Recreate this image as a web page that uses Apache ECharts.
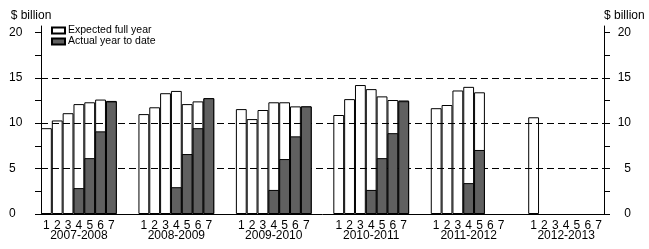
<!DOCTYPE html>
<html>
<head>
<meta charset="utf-8">
<script src="https://cdn.jsdelivr.net/npm/echarts@6/dist/echarts.min.js"></script>
<style>
html,body{margin:0;padding:0;background:#fff;}
#chart{width:649px;height:249px;}
</style>
</head>
<body>
<div id="chart"></div>
<script>
// ---- data ----
var years = ['2007-2008', '2008-2009', '2009-2010', '2010-2011', '2011-2012', '2012-2013'];
var periods = ['1', '2', '3', '4', '5', '6', '7'];
var expected2007 = [9.45, 10.3, 11.1, 12.1, 12.3, 12.6, 12.45];
var expected2008 = [11.0, 11.75, 13.3, 13.55, 12.1, 12.4, 12.75];
var expected2009 = [11.55, 10.45, 11.45, 12.3, 12.3, 11.85, 11.85];
var expected2010 = [10.9, 12.65, 14.2, 13.75, 12.95, 12.55, 12.5];
var expected2011 = [11.65, 12.0, 13.6, 14.0, 13.4, null, null];
var expected2012 = [10.65, null, null, null, null, null, null];
var actual2007 = [null, null, null, 2.85, 6.15, 9.1, 12.4];
var actual2008 = [null, null, null, 2.95, 6.6, 9.45, 12.75];
var actual2009 = [null, null, null, 2.65, 6.05, 8.55, 11.85];
var actual2010 = [null, null, null, 2.65, 6.15, 8.9, 12.42];
var actual2011 = [null, null, null, 3.4, 7.05, null, null];
var actual2012 = [null, null, null, null, null, null, null];
var yTickValues = [0, 2.5, 5, 7.5, 10, 12.5, 15, 17.5, 20];
var yLabelValues = [0, 5, 10, 15, 20];
var refLines = [5, 10, 15];

// ---- build category axis (7 periods per year, 2 empty slots between years) ----
var expectedByYear = [expected2007, expected2008, expected2009, expected2010, expected2011, expected2012];
var actualByYear = [actual2007, actual2008, actual2009, actual2010, actual2011, actual2012];
var categories = [], expData = [], actData = [], labelMap = {};
years.forEach(function (yr, yi) {
  periods.forEach(function (p, pi) {
    var key = yr + '|' + p;
    categories.push(key);
    labelMap[key] = (pi === 3) ? p + '\n' + yr : p;
    expData.push(expectedByYear[yi][pi]);
    actData.push(actualByYear[yi][pi]);
  });
  if (yi < years.length - 1) {
    for (var g = 0; g < 2; g++) {
      var gk = 'gap' + yi + '_' + g;
      categories.push(gk);
      labelMap[gk] = '';
      expData.push(null);
      actData.push(null);
    }
  }
});

var FONT = "'Liberation Sans', Arial, Helvetica, sans-serif";
var chart = echarts.init(document.getElementById('chart'), null, {renderer: 'canvas'});

function yAxisDef(pos) {
  var left = pos === 'left';
  return {
    type: 'value',
    position: pos,
    min: 0,
    max: 20.7,
    name: '$ billion',
    nameLocation: 'end',
    nameGap: 10,
    nameTextStyle: {
      fontFamily: FONT, fontSize: 12, color: '#000',
      align: left ? 'center' : 'left',
      verticalAlign: 'middle',
      padding: left ? [0, 20, 0, 0] : [0, 0, 0, 0]
    },
    axisLine: {show: true, lineStyle: {color: '#000', width: 1}},
    axisTick: {show: true, inside: false, length: 6, lineStyle: {color: '#000', width: 1}, customValues: yTickValues},
    axisLabel: {
      show: true, customValues: yLabelValues,
      fontFamily: FONT, fontSize: 12, color: '#000',
      align: left ? 'left' : 'right',
      margin: left ? 32 : 27
    },
    splitLine: {show: false}
  };
}

chart.setOption({
  animation: false,
  backgroundColor: '#fff',
  textStyle: {fontFamily: FONT},
  grid: {left: 41, right: 45, top: 26, bottom: 35, containLabel: false},
  legend: {
    orient: 'vertical',
    left: 51,
    top: 25,
    padding: 0,
    itemWidth: 13,
    itemHeight: 6,
    itemGap: 0,
    icon: 'rect',
    textStyle: {fontFamily: FONT, fontSize: 10.5, color: '#000', lineHeight: 9, padding: [0, 0, 0, -2]},
    data: ['Expected full year', 'Actual year to date']
  },
  xAxis: {
    type: 'category',
    data: categories,
    boundaryGap: true,
    axisLine: {show: true, lineStyle: {color: '#000', width: 1}},
    axisTick: {show: false},
    axisLabel: {
      interval: 0,
      hideOverlap: false,
      fontFamily: FONT, fontSize: 12, color: '#000',
      lineHeight: 10,
      margin: 7,
      verticalAlign: 'top',
      formatter: function (v) { return labelMap[v]; }
    },
    splitLine: {show: false}
  },
  yAxis: [yAxisDef('left'), yAxisDef('right')],
  series: [
    {
      name: 'Expected full year',
      type: 'bar',
      data: expData,
      barWidth: '100%',
      barGap: '-100%',
      z: 2,
      itemStyle: {color: '#fff', borderColor: '#000', borderWidth: 1},
      markLine: {
        silent: true,
        symbol: 'none',
        z: 5,
        label: {show: false},
        lineStyle: {color: '#000', width: 1, type: [7, 4]},
        data: refLines.map(function (v) { return {yAxis: v}; })
      }
    },
    {
      name: 'Actual year to date',
      type: 'bar',
      data: actData,
      barWidth: '100%',
      barGap: '-100%',
      z: 10,
      itemStyle: {color: '#606060', borderColor: '#000', borderWidth: 1}
    }
  ]
});
</script>
</body>
</html>
